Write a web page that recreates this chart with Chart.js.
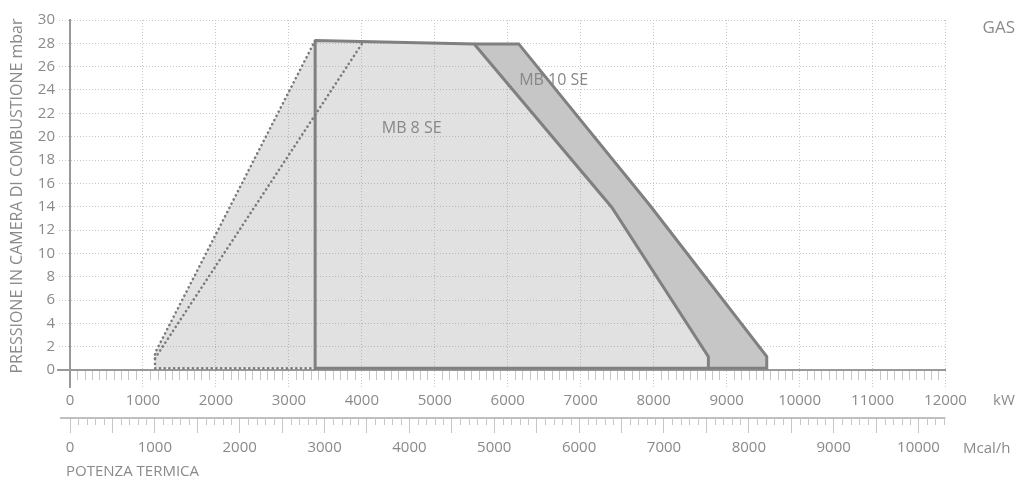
<!DOCTYPE html>
<html><head><meta charset="utf-8">
<script src="https://cdn.jsdelivr.net/npm/chart.js@4"></script>
<style>html,body{margin:0;padding:0;background:#fff}#wrap{width:1017px;height:480px}</style>
</head><body><div id="wrap"><canvas id="c" width="1017" height="480"></canvas></div>
<script>
// ---- data (kW / mbar) ----
const mb8FillKw     = [1165, 1165, 3360, 5540, 7425, 8750, 8750];
const mb8FillMbar   = [0.15, 1.45, 28.25, 27.95, 13.95, 1.15, 0.15];
const mb8SolidKw    = [3360, 5540, 7425, 8750, 8750, 3360, 3360];
const mb8SolidMbar  = [28.25, 27.95, 13.95, 1.15, 0.15, 0.15, 28.25];
const mb8DotOuterKw   = [3360, 1165, 1165, 3360];
const mb8DotOuterMbar = [0.15, 0.15, 1.45, 28.25];
const mb8DotInnerKw   = [1165, 4000];
const mb8DotInnerMbar = [1.0, 27.95];
const mb10FillKw    = [5540, 6150, 7950, 9550, 9550, 8750, 8750, 7425];
const mb10FillMbar  = [27.95, 27.95, 14.1, 1.15, 0.15, 0.15, 1.15, 13.95];
const mb10LineKw    = [5540, 6150, 7950, 9550, 9550, 8750];
const mb10LineMbar  = [27.95, 27.95, 14.1, 1.15, 0.15, 0.15];
const seriesNames   = ['MB 8 SE', 'MB 10 SE'];
const nameKw        = [4683, 6630];
const nameMbar      = [20.7, 24.85];
// ---- axis ticks ----
const kwTicks   = [0, 1000, 2000, 3000, 4000, 5000, 6000, 7000, 8000, 9000, 10000, 11000, 12000];
const mbarTicks = [0, 2, 4, 6, 8, 10, 12, 14, 16, 18, 20, 22, 24, 26, 28, 30];
const mcalTicks = [0, 500, 1000, 1500, 2000, 2500, 3000, 3500, 4000, 4500, 5000, 5500, 6000, 6500, 7000, 7500, 8000, 8500, 9000, 9500, 10000];
const mcalLabelStep = 1000, kwMinor = 100, mcalMinor = 100;
const KW_PER_MCAL = 1.163;

const pts = (xs, ys) => xs.map((v, i) => ({x: v, y: ys[i]}));
const FONT = '"Open Sans", sans-serif';
const TXT = '#8a8a8a';
const EDGE = '#808080';

Chart.defaults.font.family = FONT;
Chart.defaults.font.size = 15;
Chart.defaults.color = TXT;

const setTicks = arr => s => { s.ticks = arr.map(v => ({value: v})); };

const decor = {
  id: 'decor',
  afterDraw(chart) {
    const {ctx, scales: {x, y, x2}} = chart;
    const y0 = y.getPixelForValue(0);
    const kwMax = kwTicks[kwTicks.length - 1];
    ctx.save();
    // x axis minor ticks
    ctx.strokeStyle = '#c6c6c6'; ctx.lineWidth = 1;
    ctx.beginPath();
    for (let v = kwMinor; v < kwMax; v += kwMinor) {
      if (kwTicks.includes(v)) continue;
      const px = Math.round(x.getPixelForValue(v)) + 0.5;
      ctx.moveTo(px, y0 + 1); ctx.lineTo(px, y0 + 10);
    }
    ctx.stroke();
    // second axis line + minor ticks
    const y2 = x2.top;
    ctx.strokeStyle = '#aaaaaa'; ctx.lineWidth = 1.5;
    ctx.beginPath(); ctx.moveTo(60, y2); ctx.lineTo(x2.right, y2); ctx.stroke();
    ctx.strokeStyle = '#c6c6c6'; ctx.lineWidth = 1;
    ctx.beginPath();
    for (let v = mcalMinor; v <= x2.max; v += mcalMinor) {
      if (mcalTicks.includes(v)) continue;
      const px = Math.round(x2.getPixelForValue(v)) + 0.5;
      ctx.moveTo(px, y2); ctx.lineTo(px, y2 + 7);
    }
    ctx.stroke();
    // axis extensions
    ctx.strokeStyle = '#999'; ctx.lineWidth = 2;
    ctx.beginPath();
    ctx.moveTo(x.left, y0); ctx.lineTo(x.left, y0 + 18);
    ctx.moveTo(57, y0); ctx.lineTo(x.left, y0);
    ctx.stroke();
    // series names
    ctx.fillStyle = '#888';
    ctx.font = '16px ' + FONT;
    ctx.textAlign = 'center'; ctx.textBaseline = 'middle';
    seriesNames.forEach((n, i) => ctx.fillText(n, x.getPixelForValue(nameKw[i]), y.getPixelForValue(nameMbar[i])));
    // axis titles
    ctx.fillStyle = TXT;
    ctx.font = '15px ' + FONT;
    ctx.textAlign = 'left';
    ctx.fillText('kW', 993, 401);
    ctx.fillText('Mcal/h', 963, 449);
    ctx.fillText('POTENZA TERMICA', 66, 472);
    ctx.font = '17px ' + FONT;
    ctx.textAlign = 'right';
    ctx.fillText('GAS', 1015, 28);
    ctx.font = '16px ' + FONT;
    ctx.save();
    ctx.translate(17, 196); ctx.rotate(-Math.PI / 2);
    ctx.textAlign = 'center';
    ctx.fillText('PRESSIONE IN CAMERA DI COMBUSTIONE mbar', 0, 0);
    ctx.restore();
    ctx.restore();
  }
};

const dotted = {showLine: true, pointRadius: 0, borderColor: '#7a7a7a', borderWidth: 2.6, borderDash: [0.1, 4.6], borderCapStyle: 'round', fill: false, order: 1};
const solid = {showLine: true, pointRadius: 0, borderColor: EDGE, borderWidth: 3, borderJoinStyle: 'miter', fill: false, order: 2};

new Chart(document.getElementById('c'), {
  type: 'scatter',
  data: {
    datasets: [
      {data: pts(mb10FillKw, mb10FillMbar), showLine: true, pointRadius: 0, borderWidth: 0, borderColor: 'rgba(0,0,0,0)', backgroundColor: '#c6c6c6', fill: 'shape', order: 10},
      {data: pts(mb8FillKw, mb8FillMbar), showLine: true, pointRadius: 0, borderWidth: 0, borderColor: 'rgba(0,0,0,0)', backgroundColor: 'rgba(128,128,128,0.235)', fill: 'shape', order: 9},
      Object.assign({data: pts(mb8SolidKw, mb8SolidMbar)}, solid),
      Object.assign({data: pts(mb10LineKw, mb10LineMbar)}, solid),
      Object.assign({data: pts(mb8DotOuterKw, mb8DotOuterMbar)}, dotted),
      Object.assign({data: pts(mb8DotInnerKw, mb8DotInnerMbar)}, dotted)
    ]
  },
  options: {
    responsive: false,
    devicePixelRatio: 1,
    animation: false,
    events: [],
    layout: {padding: {left: 0, top: 20, right: 71.5, bottom: 0}},
    plugins: {legend: {display: false}, tooltip: {enabled: false}},
    scales: {
      x: {
        type: 'linear', position: 'bottom', min: kwTicks[0], max: kwTicks[kwTicks.length - 1],
        afterBuildTicks: setTicks(kwTicks),
        afterFit(s) { s.height = 48; },
        ticks: {padding: 3, maxRotation: 0, autoSkip: false, callback: v => String(v)},
        grid: {color: '#c8c8c8', lineWidth: 1, tickLength: 19, tickColor: '#c8c8c8', tickBorderDash: [1, 2]},
        border: {display: true, color: '#999', width: 2, dash: [1, 2]}
      },
      x2: {
        type: 'linear', axis: 'x', position: 'bottom', min: 0, max: kwTicks[kwTicks.length - 1] / KW_PER_MCAL,
        afterBuildTicks: setTicks(mcalTicks),
        afterFit(s) { s.height = 62; },
        ticks: {padding: 6, maxRotation: 0, autoSkip: false,
          callback: v => (v % mcalLabelStep === 0 ? String(v) : '')},
        grid: {display: true, drawOnChartArea: false, drawTicks: true, tickLength: 15, tickColor: '#c6c6c6', color: '#c6c6c6', tickBorderDash: []},
        border: {display: false}
      },
      y: {
        type: 'linear', min: mbarTicks[0], max: mbarTicks[mbarTicks.length - 1],
        afterBuildTicks: setTicks(mbarTicks),
        afterFit(s) { s.width = 70; },
        ticks: {padding: 4, callback: v => String(v)},
        grid: {color: '#c8c8c8', lineWidth: 1, tickLength: 11, tickColor: '#c8c8c8', tickBorderDash: [1, 2]},
        border: {display: true, color: '#999', width: 2, dash: [1, 2]}
      }
    }
  },
  plugins: [decor]
});
</script></body></html>
